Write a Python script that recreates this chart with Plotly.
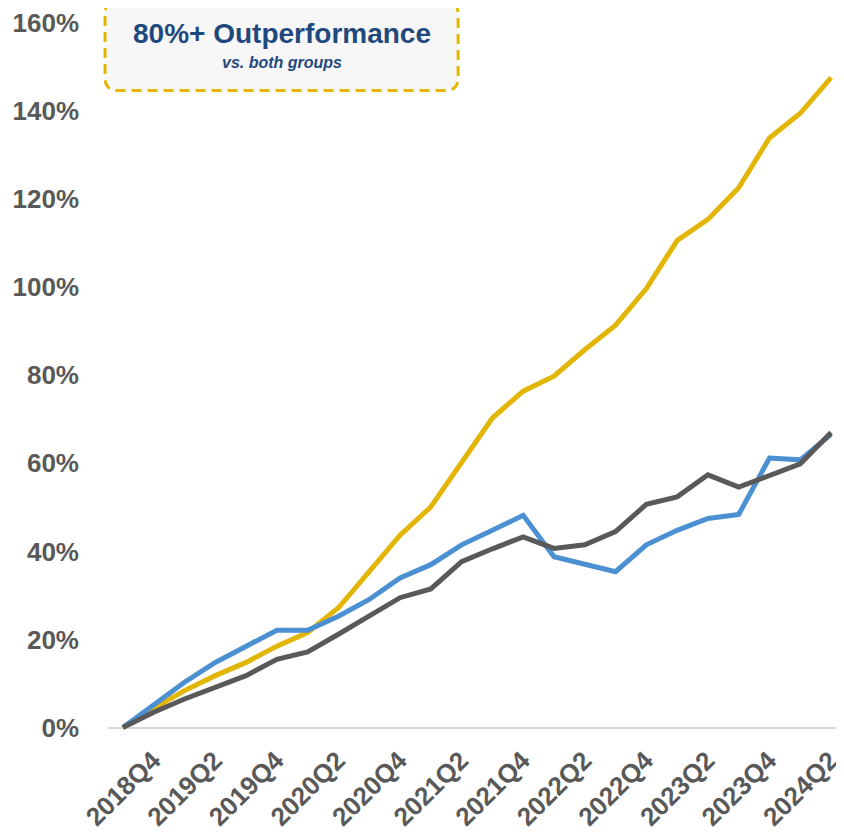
import plotly.graph_objects as go

quarters = ["2018Q4", "2019Q1", "2019Q2", "2019Q3", "2019Q4", "2020Q1", "2020Q2", "2020Q3",
            "2020Q4", "2021Q1", "2021Q2", "2021Q3", "2021Q4", "2022Q1", "2022Q2", "2022Q3",
            "2022Q4", "2023Q1", "2023Q2", "2023Q3", "2023Q4", "2024Q1", "2024Q2", "2024Q3"]
tick_labels = ["2018Q4", "2019Q2", "2019Q4", "2020Q2", "2020Q4", "2021Q2", "2021Q4",
               "2022Q2", "2022Q4", "2023Q2", "2023Q4", "2024Q2"]

portfolio = [0, 4.4, 8.4, 11.8, 14.8, 18.5, 21.6, 27.2, 35.4, 43.7, 50.1, 60.2, 70.3, 76.4,
             79.8, 85.8, 91.4, 99.7, 110.6, 115.4, 122.6, 133.9, 139.5, 147.6]
group_a = [0, 5.0, 10.3, 14.8, 18.5, 22.1, 22.1, 25.3, 29.1, 34.0, 37.0, 41.5, 44.8, 48.2,
           38.8, 37.0, 35.4, 41.5, 44.8, 47.5, 48.4, 61.2, 60.8, 66.6]
group_b = [0, 3.5, 6.5, 9.2, 11.8, 15.5, 17.2, 21.2, 25.3, 29.5, 31.5, 37.7, 40.6, 43.3,
           40.7, 41.5, 44.5, 50.7, 52.4, 57.4, 54.6, 57.2, 59.9, 67.0]

# page body has an 8px margin, so the figure is sized to the visible area
W, H = 836, 824
L, R, T, B = 100, 0, 11, 99
PW, PH = W - L - R, H - T - B

fig = go.Figure()
fig.add_trace(go.Scatter(x=quarters, y=portfolio, mode="lines", name="Portfolio",
                         line=dict(color="#E3B505", width=5)))
fig.add_trace(go.Scatter(x=quarters, y=group_a, mode="lines", name="Group A",
                         line=dict(color="#4A90D2", width=5)))
fig.add_trace(go.Scatter(x=quarters, y=group_b, mode="lines", name="Group B",
                         line=dict(color="#595959", width=5)))

def px_to_paper(px, py):
    return (px - L) / PW, (H - B - py) / PH

def P(px, py):
    a, b = px_to_paper(px, py)
    return f"{a:.5f},{b:.5f}"

# rounded dashed call-out box (figure pixel coordinates)
x0, x1, y0, y1, r = 97, 452, -11, 79, 13
path = (f"M {P(x0 + r, y0)} L {P(x1 - r, y0)} Q {P(x1, y0)} {P(x1, y0 + r)} "
        f"L {P(x1, y1 - r)} Q {P(x1, y1)} {P(x1 - r, y1)} L {P(x0 + r, y1)} "
        f"Q {P(x0, y1)} {P(x0, y1 - r)} L {P(x0, y0 + r)} Q {P(x0, y0)} {P(x0 + r, y0)} Z")
fig.add_shape(type="path", path=path, xref="paper", yref="paper",
              fillcolor="#F7F7F7", line=dict(color="#E3B505", width=3, dash="10px,6px"),
              layer="above")

cx, _ = px_to_paper(275, 0)
_, ty = px_to_paper(0, 22)
_, sy = px_to_paper(0, 51)
fig.add_annotation(x=cx, y=ty, xref="paper", yref="paper", text="80%+ Outperformance",
                   showarrow=False, xanchor="center", yanchor="middle",
                   font=dict(family="Liberation Sans, Arial", size=28, color="#1F497D", weight="bold"))
fig.add_annotation(x=cx, y=sy, xref="paper", yref="paper", text="vs. both groups",
                   showarrow=False, xanchor="center", yanchor="middle",
                   font=dict(family="Liberation Sans, Arial", size=16, color="#1F497D",
                             weight="bold", style="italic"))

fig.update_layout(
    width=W, height=H, margin=dict(l=L, r=R, t=T, b=B, pad=0),
    paper_bgcolor="white", plot_bgcolor="white", showlegend=False,
    font=dict(family="Liberation Sans, Arial", color="#595959"),
)
fig.update_xaxes(type="category", range=[-0.485, 23.29], showgrid=False, showline=False,
                 zeroline=False, tickmode="array", tickvals=tick_labels, ticktext=tick_labels,
                 tickangle=-45, ticks="", ticklabelstandoff=7, ticklabelshift=30,
                 ticklabeloverflow="allow",
                 tickfont=dict(size=26, color="#595959", weight="bold"))
fig.update_yaxes(range=[-1, 160], dtick=20, tick0=0, ticksuffix="%", showgrid=False,
                 zeroline=True, zerolinecolor="#D9D9D9", zerolinewidth=2, showline=False,
                 ticks="", ticklabelstandoff=28, ticklabeloverflow="allow",
                 tickfont=dict(size=26, color="#595959", weight="bold"))

fig.write_html("out.html")
